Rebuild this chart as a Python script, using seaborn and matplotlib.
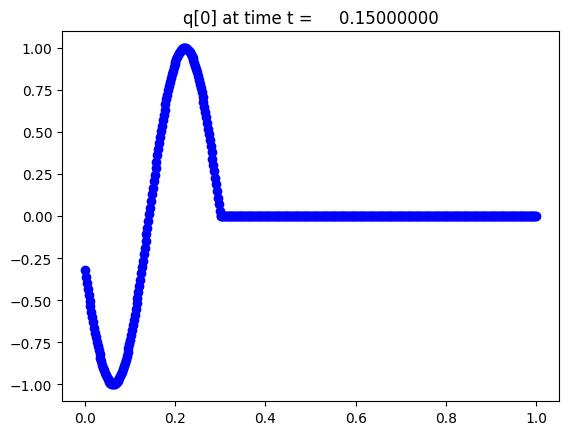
import numpy as np
import pandas as pd
import matplotlib
matplotlib.use("Agg")
import matplotlib.pyplot as plt
import seaborn as sns

# grid: 500 cell centres on [0, 1]
n_cells = 500
x_centres = (np.arange(n_cells) + 0.5) / n_cells

# q[0] values: wave part (x = 0.001 ... 0.299)
q_wave = [
    -0.322, -0.360, -0.397, -0.433, -0.468, -0.503, -0.537, -0.570, -0.602, -0.633,
    -0.664, -0.693, -0.721, -0.748, -0.774, -0.798, -0.822, -0.844, -0.864, -0.884,
    -0.902, -0.918, -0.933, -0.947, -0.959, -0.969, -0.978, -0.986, -0.992, -0.996,
    -0.999, -1.000, -1.000, -0.998, -0.994, -0.989, -0.982, -0.974, -0.964, -0.953,
    -0.940, -0.926, -0.910, -0.893, -0.874, -0.854, -0.833, -0.810, -0.786, -0.761,
    -0.735, -0.707, -0.679, -0.649, -0.618, -0.586, -0.553, -0.520, -0.486, -0.450,
    -0.415, -0.378, -0.341, -0.303, -0.265, -0.227, -0.188, -0.149, -0.109, -0.069,
    -0.030, 0.010, 0.050, 0.089, 0.129, 0.168, 0.207, 0.246, 0.284, 0.322,
    0.360, 0.397, 0.433, 0.468, 0.503, 0.537, 0.570, 0.602, 0.633, 0.664,
    0.693, 0.721, 0.748, 0.774, 0.798, 0.822, 0.844, 0.864, 0.884, 0.902,
    0.918, 0.933, 0.947, 0.959, 0.969, 0.978, 0.986, 0.992, 0.996, 0.999,
    1.000, 1.000, 0.998, 0.994, 0.989, 0.982, 0.974, 0.964, 0.953, 0.940,
    0.926, 0.910, 0.893, 0.874, 0.854, 0.833, 0.810, 0.786, 0.761, 0.735,
    0.707, 0.679, 0.649, 0.618, 0.586, 0.553, 0.520, 0.486, 0.450, 0.415,
    0.378, 0.341, 0.303, 0.265, 0.227, 0.188, 0.149, 0.109, 0.070, 0.030,
]
# flat part (x = 0.301 ... 0.999) reads 0 everywhere
q_flat = [0.0] * (n_cells - len(q_wave))
q_values = q_wave + q_flat

title_text = "q[0] at time t =     0.15000000"

df = pd.DataFrame({"x": x_centres, "q": q_values})

fig = plt.figure(figsize=(5.68, 4.35), dpi=100)
ax = fig.add_axes([62 / 568, 33 / 435, 497 / 568, 370 / 435])

sns.scatterplot(data=df, x="x", y="q", ax=ax, color="blue", s=36,
                edgecolor="blue", linewidth=1.0, legend=False)

ax.set_xlabel("")
ax.set_ylabel("")
ax.set_title(title_text, fontsize=12)
ax.set_yticks([-1.0, -0.75, -0.5, -0.25, 0.0, 0.25, 0.5, 0.75, 1.0])
ax.set_yticklabels([f"{v:.2f}".replace("-", "\u2212") for v in
                    [-1.0, -0.75, -0.5, -0.25, 0.0, 0.25, 0.5, 0.75, 1.0]])
ax.set_xticks([0.0, 0.2, 0.4, 0.6, 0.8, 1.0])
ax.set_xlim(-0.05, 1.05)
ax.set_ylim(-1.1, 1.1)

fig.savefig("out.png", dpi=100)
